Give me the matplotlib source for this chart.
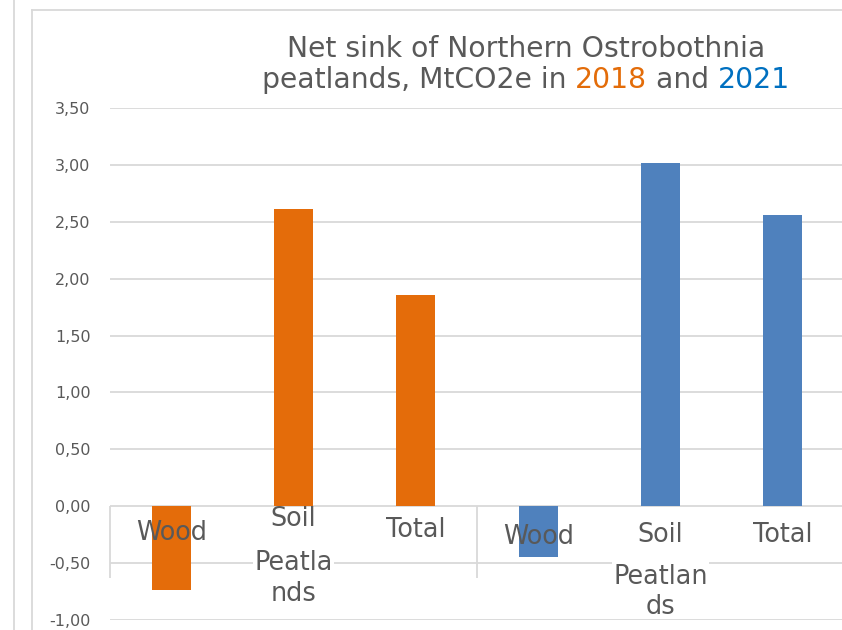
import matplotlib
matplotlib.use("Agg")
import matplotlib.pyplot as plt
from matplotlib.lines import Line2D

# ---- data ----
categories = ["Wood", "Soil Peatlands", "Total", "Wood", "Soil Peatlands", "Total"]
values_2018 = [-0.74, 2.61, 1.86]
values_2021 = [-0.45, 3.02, 2.56]
yticks = [-1.0, -0.5, 0.0, 0.5, 1.0, 1.5, 2.0, 2.5, 3.0, 3.5]
ytick_labels = ["-1,00", "-0,50", "0,00", "0,50", "1,00", "1,50", "2,00", "2,50", "3,00", "3,50"]
title_line1 = "Net sink of Northern Ostrobothnia"
title_line2 = [("peatlands, MtCO2e in ", "#595959"), ("2018", "#E36C09"),
               (" and ", "#595959"), ("2021", "#0070C0")]

ORANGE = "#E46C0A"
BLUE = "#4F81BD"
GRAY = "#595959"
GRID = "#D9D9D9"

W, H = 842, 630
fig = plt.figure(figsize=(W / 100, H / 100), dpi=100)
fig.patch.set_facecolor("white")

# axes: left 110px, right ~844px, y 3.5 at 108px, -1 at 620px
ax = fig.add_axes([110 / W, 1 - 620 / H, 734 / W, (620 - 108) / H])
ax.set_xlim(-0.5, 5.5)
ax.set_ylim(-1.0, 3.5)

xs = list(range(len(categories)))
vals = values_2018 + values_2021
cols = [ORANGE] * len(values_2018) + [BLUE] * len(values_2021)
ax.bar(xs, vals, width=0.32, color=cols, zorder=3)

ax.set_yticks(yticks)
ax.set_yticklabels(ytick_labels, color=GRAY, fontsize=11.5)
ax.tick_params(axis="y", length=0, pad=14)
ax.set_xticks([])
ax.yaxis.grid(True, color=GRID, linewidth=1.3, zorder=0)
ax.set_axisbelow(True)
for s in ax.spines.values():
    s.set_visible(False)

# group separators
ax.vlines([-0.5, 2.5], -0.63, 0.0, color=GRID, linewidth=1.3, zorder=1, clip_on=False)

# category labels (as displayed, with wrapping)
lab_fs = 18.4
label_y = [-0.235, -0.112, -0.208, -0.27, -0.253, -0.253]
for x, name, ly in zip(xs, categories, label_y):
    first = name.split(" ")[0]
    ax.text(x, ly, first, ha="center", va="center", fontsize=lab_fs, color=GRAY, zorder=5)
# wrapped second-level text for "Soil Peatlands"
ax.text(1, -0.498, "Peatla", ha="center", va="center", fontsize=lab_fs, color=GRAY, zorder=5,
        bbox=dict(facecolor="white", edgecolor="none", pad=1))
ax.text(1, -0.77, "nds", ha="center", va="center", fontsize=lab_fs, color=GRAY, zorder=5)
ax.text(4, -0.62, "Peatlan", ha="center", va="center", fontsize=lab_fs, color=GRAY, zorder=5,
        bbox=dict(facecolor="white", edgecolor="none", pad=1))
ax.text(4, -0.89, "ds", ha="center", va="center", fontsize=lab_fs, color=GRAY, zorder=5)

# frame lines
fig.add_artist(Line2D([14 / W, 14 / W], [0, 1], color=GRID, linewidth=1.3))
fig.add_artist(Line2D([32 / W, 32 / W], [0, 1 - 10 / H], color=GRID, linewidth=1.3))
fig.add_artist(Line2D([32 / W, 1], [1 - 10 / H, 1 - 10 / H], color=GRID, linewidth=1.3))

# title
tfs = 20.3
cx = 526 / W
fig.text(cx, 1 - 57 / H, title_line1, ha="center", va="baseline", fontsize=tfs, color=GRAY)
renderer = fig.canvas.get_renderer()
pieces = []
for txt, c in title_line2:
    t = fig.text(0, 1 - 88 / H, txt, ha="left", va="baseline", fontsize=tfs, color=c)
    pieces.append(t)
widths = [p.get_window_extent(renderer).width for p in pieces]
total = sum(widths)
x0 = cx * W - total / 2
for p, w in zip(pieces, widths):
    p.set_x(x0 / W)
    x0 += w

fig.savefig("out.png", dpi=100)
